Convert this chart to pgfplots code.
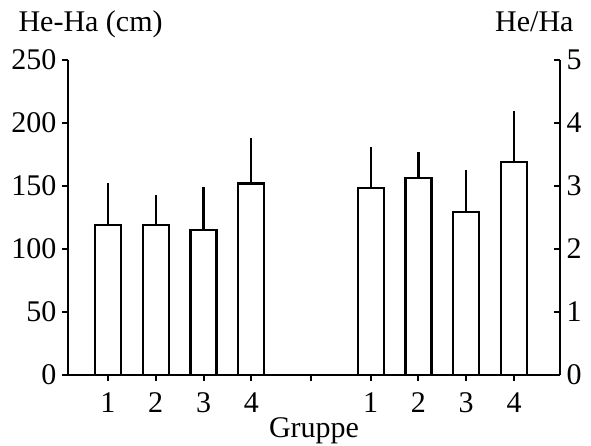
\documentclass[border=0pt]{standalone}
\usepackage{pgfplots}
\pgfplotsset{compat=1.18}
\usepackage{fontspec}
\setmainfont{Liberation Serif}
\begin{document}
\begin{tikzpicture}[font=\fontsize{30}{35}\selectfont]
\useasboundingbox (-68pt,-71pt) rectangle (523pt,375pt);
\begin{axis}[
  scale only axis, width=492pt, height=315pt,
  at={(0,0)}, anchor=south west,
  xmin=0.163, xmax=10.463, ymin=0, ymax=250,
  axis x line*=bottom, axis y line*=left,
  axis line style={line width=2pt},
  tick style={line width=2pt, black},
  major tick length=6pt, tick align=outside,
  xtick={1,2,3,4,5.25,6.5,7.5,8.5,9.5},
  xticklabels={1,2,3,4,{},1,2,3,4},
  ytick={0,50,100,150,200,250},
  /pgf/number format/assume math mode=true,
  yticklabel style={anchor=east, xshift=-2pt},
  xticklabel style={anchor=base, yshift=-32pt},
  xlabel={Gruppe},
  xlabel style={at={(rel axis cs:0.5,0)}, anchor=base, yshift=-63pt},
  clip=false,
]
\addplot[ybar, bar width=26pt, fill=white, draw=black, line width=2.4pt,
  error bars/.cd, y dir=plus, y explicit, error mark=none,
  error bar style={line width=2.2pt}]
  coordinates {(1,119) +- (0,33) (2,119) +- (0,24) (3,115) +- (0,34) (4,152) +- (0,36)};
\node[anchor=base west] at (rel axis cs:0,1) [xshift=-53pt, yshift=28pt] {He-Ha (cm)};
\end{axis}
\begin{axis}[
  scale only axis, width=492pt, height=315pt,
  at={(0,0)}, anchor=south west,
  xmin=0.163, xmax=10.463, ymin=0, ymax=5,
  axis x line=none, axis y line*=right,
  axis line style={line width=2pt},
  tick style={line width=2pt, black},
  major tick length=6pt, tick align=inside,
  ytick={0,1,2,3,4,5},
  /pgf/number format/assume math mode=true,
  yticklabel style={anchor=west, xshift=3pt},
  clip=false,
]
\addplot[ybar, bar width=26pt, fill=white, draw=black, line width=2.4pt,
  error bars/.cd, y dir=plus, y explicit, error mark=none,
  error bar style={line width=2.2pt}]
  coordinates {(6.5,2.97) +- (0,0.65) (7.5,3.13) +- (0,0.41) (8.5,2.59) +- (0,0.66) (9.5,3.38) +- (0,0.81)};
\node[anchor=base east] at (rel axis cs:1,1) [xshift=17pt, yshift=28pt] {He/Ha};
\end{axis}
\end{tikzpicture}
\end{document}
